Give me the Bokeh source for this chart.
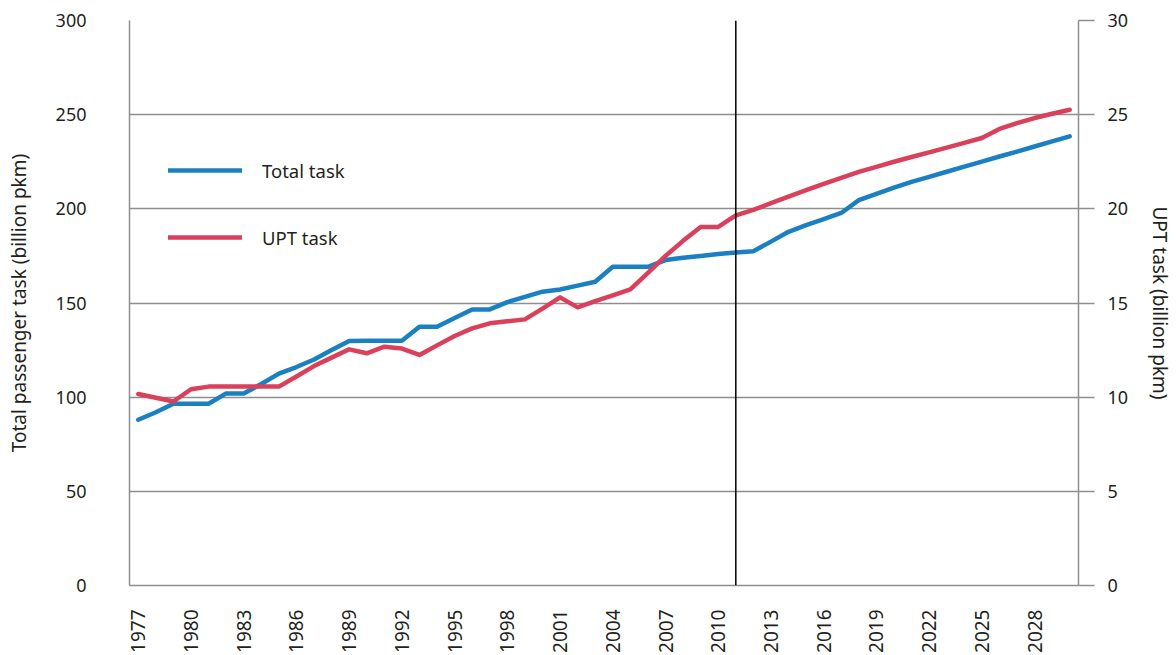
import math
from bokeh.plotting import figure
from bokeh.models import (Range1d, LinearAxis, FixedTicker, Span, Legend, LegendItem)
from bokeh.embed import file_html
from bokeh.resources import INLINE

# ---- data ----
years = list(range(1977, 2031))
total_task = [88.0, 92.0, 96.5, 96.5, 96.5, 102.0, 102.0, 107.0, 112.5, 116.0,
              120.0, 125.0, 129.8, 130.0, 130.0, 130.0, 137.4, 137.4, 142.0, 146.6,
              146.6, 150.5, 153.3, 156.0, 157.2, 159.2, 161.3, 169.2, 169.2, 169.2,
              172.8, 174.0, 175.0, 176.0, 176.8, 177.5, 182.6, 187.8, 191.3, 194.5,
              197.8, 204.6, 208.0, 211.3, 214.3, 217.0, 219.7, 222.4, 225.1, 227.8,
              230.4, 233.1, 235.8, 238.5]
upt_task = [10.17, 9.97, 9.77, 10.42, 10.56, 10.56, 10.56, 10.56, 10.56, 11.1,
            11.65, 12.1, 12.54, 12.33, 12.68, 12.58, 12.24, 12.75, 13.25, 13.65,
            13.92, 14.03, 14.13, 14.7, 15.3, 14.77, 15.1, 15.4, 15.72, 16.6,
            17.5, 18.3, 19.04, 19.04, 19.65, 19.95, 20.3, 20.65, 20.99, 21.33,
            21.65, 21.96, 22.23, 22.5, 22.75, 23.0, 23.25, 23.5, 23.76, 24.24,
            24.55, 24.82, 25.05, 25.26]
x_ticks = list(range(1977, 2030, 3))
left_ticks = [0, 50, 100, 150, 200, 250, 300]
right_ticks = [0, 5, 10, 15, 20, 25, 30]
forecast_start = 2011
series_names = ["Total task", "UPT task"]
left_title = "Total passenger task (billion pkm)"
right_title = "UPT task (billion pkm)"

FONT = "Noto Sans"
GRID = "#8e8e8e"
BLUE = "#1b80c1"
RED = "#da405b"
TXT = "#231f20"

p = figure(width=1176, height=655, output_backend="svg", toolbar_location=None,
           x_range=Range1d(years[0] - 0.5, years[-1] + 0.5),
           y_range=Range1d(0, 300),
           min_border_left=129, min_border_right=98, min_border_top=20,
           min_border_bottom=69)
p.extra_y_ranges = {"upt": Range1d(0, 30)}
p.outline_line_color = None
p.background_fill_color = "white"

# axes
xa = p.xaxis[0]
xa.ticker = FixedTicker(ticks=x_ticks)
xa.major_label_orientation = math.pi / 2
xa.major_tick_out = 0
xa.major_tick_in = 0
xa.minor_tick_out = 0
xa.minor_tick_in = 0
xa.major_label_standoff = 24
xa.axis_line_color = GRID
xa.axis_line_width = 1.5
xa.major_label_text_font = FONT
xa.major_label_text_font_size = "19px"
xa.major_label_text_color = TXT

ya = p.yaxis[0]
ya.ticker = FixedTicker(ticks=left_ticks)
ya.major_tick_out = 0
ya.major_tick_in = 0
ya.minor_tick_out = 0
ya.minor_tick_in = 0
ya.major_label_standoff = 43
ya.axis_line_color = GRID
ya.axis_line_width = 1.5
ya.major_label_text_font = FONT
ya.major_label_text_font_size = "18px"
ya.major_label_text_color = TXT
ya.axis_label = left_title
ya.axis_label_text_font = FONT
ya.axis_label_text_font_size = "19px"
ya.axis_label_text_font_style = "normal"
ya.axis_label_text_color = TXT
ya.axis_label_standoff = 21

ra = LinearAxis(y_range_name="upt", ticker=FixedTicker(ticks=right_ticks))
ra.major_tick_out = 16
ra.major_tick_in = 0
ra.major_tick_line_color = GRID
ra.major_tick_line_width = 1.5
ra.minor_tick_out = 0
ra.minor_tick_in = 0
ra.major_label_standoff = 13
ra.axis_line_color = GRID
ra.axis_line_width = 1.5
ra.major_label_text_font = FONT
ra.major_label_text_font_size = "18px"
ra.major_label_text_color = TXT
ra.axis_label = right_title
ra.axis_label_text_font = FONT
ra.axis_label_text_font_size = "19px"
ra.axis_label_text_font_style = "normal"
ra.axis_label_text_color = TXT
ra.axis_label_standoff = 16
p.add_layout(ra, "right")

p.xgrid.visible = False
p.ygrid.ticker = FixedTicker(ticks=left_ticks[1:-1])
p.ygrid.grid_line_color = GRID
p.ygrid.grid_line_width = 1.5

p.add_layout(Span(location=forecast_start, dimension="height",
                  line_color="black", line_width=1.5))

r_total = p.line(years, total_task, line_color=BLUE, line_width=4.5,
                 line_cap="round", line_join="round")
r_upt = p.line(years, upt_task, y_range_name="upt", line_color=RED,
               line_width=4.5, line_cap="round", line_join="round")

legend = Legend(items=[LegendItem(label=series_names[0], renderers=[r_total]),
                       LegendItem(label=series_names[1], renderers=[r_upt])],
                location=(39, 335), border_line_color=None,
                background_fill_alpha=0, glyph_width=74, glyph_height=26,
                label_height=26, spacing=41, padding=0, margin=0,
                label_standoff=20, label_text_font=FONT,
                label_text_font_size="18.5px", label_text_color=TXT)
p.add_layout(legend)

open("out.html", "w").write(file_html(p, INLINE))
